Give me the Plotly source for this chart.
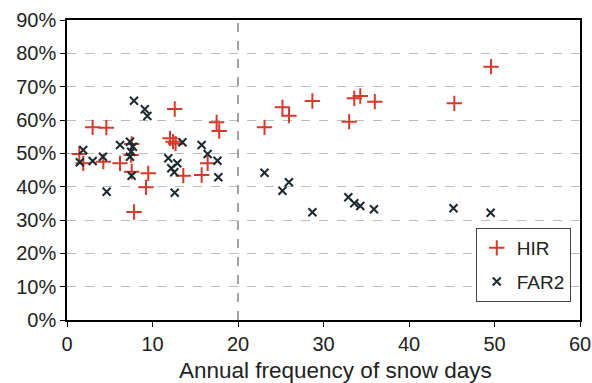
import plotly.graph_objects as go

hir_x = [1.44, 1.9, 3.0, 4.6, 4.25, 6.2, 7.56, 7.5, 7.56, 7.84, 9.24, 9.5, 12.6, 12.05, 12.4, 12.7,
         13.6, 15.75, 16.45, 17.5, 17.8, 23.1, 25.2, 25.96, 28.7, 33.0, 33.6, 34.3, 36.0, 45.3, 49.6]
hir_y = [49.8, 47.0, 57.8, 57.7, 47.5, 47.0, 52.8, 49.5, 44.5, 32.4, 39.8, 44.0, 63.3, 54.5, 53.5, 52.9,
         43.3, 43.5, 47.0, 59.3, 56.7, 57.8, 63.8, 61.3, 65.7, 59.5, 66.5, 67.2, 65.5, 65.0, 76.0]

far_x = [1.9, 1.5, 3.0, 4.2, 4.64, 6.2, 7.37, 7.7, 7.5, 7.37, 7.56, 7.84, 9.1, 9.4, 11.85, 12.2, 12.9,
         12.55, 12.6, 13.5, 15.75, 16.45, 17.6, 17.7, 23.1, 25.2, 25.96, 28.7, 32.9, 33.6, 34.3, 35.9,
         45.2, 49.55]
far_y = [51.0, 47.3, 47.7, 49.0, 38.5, 52.5, 53.5, 52.0, 50.5, 49.0, 43.3, 65.8, 63.2, 61.2, 48.5, 45.5,
         47.0, 44.3, 38.2, 53.3, 52.5, 49.8, 47.8, 42.8, 44.2, 38.8, 41.3, 32.3, 36.8, 35.0, 34.2, 33.2,
         33.5, 32.2]

x_ticks = [0, 10, 20, 30, 40, 50, 60]
y_ticks = [0, 10, 20, 30, 40, 50, 60, 70, 80, 90]
y_tick_labels = [f"{v}%" for v in y_ticks]
threshold = 20
x_title = "Annual frequency of snow days"

fig = go.Figure()
fig.add_trace(go.Scatter(
    x=hir_x, y=hir_y, mode="markers", name="HIR", legendgroup="a",
    marker=dict(symbol="cross-thin", size=11, color="#d8392b",
                line=dict(width=2, color="#d8392b")),
))
fig.add_trace(go.Scatter(
    x=far_x, y=far_y, mode="markers", name="FAR2", legendgroup="b",
    marker=dict(symbol="x-thin", size=8, color="#1b2a30",
                line=dict(width=2, color="#1b2a30")),
))

fig.add_shape(type="line", x0=threshold, x1=threshold, y0=0, y1=90, xref="x", yref="y",
              line=dict(color="#444444", width=1, dash="dash"))

fig.add_annotation(text=x_title, xref="paper", yref="paper", x=0.524, y=-0.168,
                   xanchor="center", yanchor="middle", showarrow=False,
                   font=dict(size=22.5))

font_family = "Liberation Sans, Arial, sans-serif"
fig.update_layout(
    width=592, height=383,
    margin=dict(l=67, r=12, t=20, b=63),
    plot_bgcolor="white", paper_bgcolor="white",
    font=dict(family=font_family, size=20, color="#222222"),
    showlegend=True,
    legend=dict(x=0.982, y=0.06, xanchor="right", yanchor="bottom",
                bordercolor="#444444", borderwidth=1, bgcolor="white",
                font=dict(size=19), itemwidth=30, tracegroupgap=6, traceorder="grouped"),
    xaxis=dict(range=[0, 60], tickvals=x_ticks, ticks="outside", ticklen=5, tickcolor="black",
               showline=True, linecolor="black", linewidth=1.5, mirror=True,
               showgrid=False, zeroline=False, automargin=False, ticklabeloverflow="allow",
               tickfont=dict(size=20)),
    yaxis=dict(range=[0, 90], tickvals=y_ticks, ticktext=y_tick_labels, ticks="outside", ticklen=5,
               tickcolor="black", showline=True, linecolor="black", linewidth=1.5, mirror=True,
               showgrid=True, gridcolor="#bbbbbb", griddash="dash", gridwidth=1, zeroline=False,
               automargin=False, tickfont=dict(size=20)),
)

fig.write_html("out.html", config={"displayModeBar": False},
               post_script="document.body.style.margin='0';document.body.style.overflow='hidden';")
